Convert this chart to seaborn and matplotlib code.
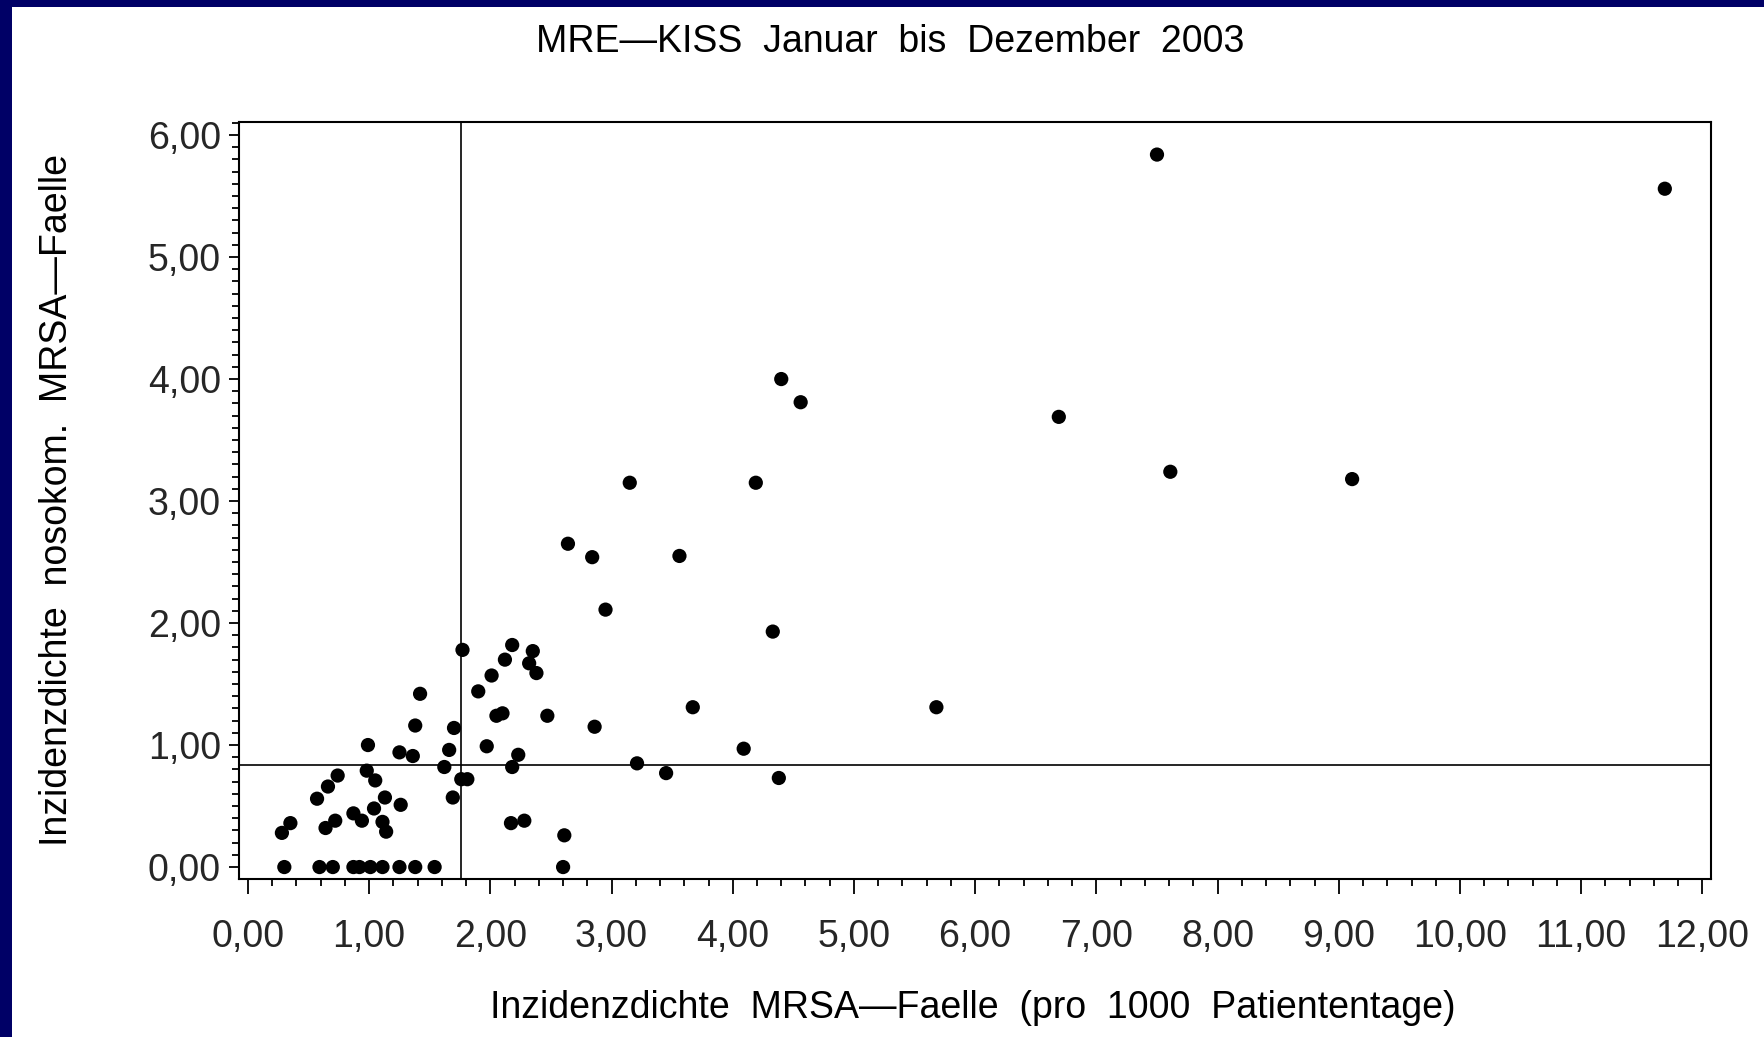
import matplotlib
matplotlib.use("Agg")
import matplotlib.pyplot as plt
from matplotlib.patches import Rectangle
from matplotlib.ticker import MultipleLocator, FuncFormatter
import seaborn as sns
import pandas as pd

# Incidence density of MRSA cases (per 1000 patient days) per ward
mrsa_total = [
    0.30, 0.59, 0.70, 0.87, 0.92, 1.01, 1.11, 1.25, 1.38, 1.54, 2.60,
    0.28, 0.35, 0.57, 0.66, 0.64, 0.72, 0.74, 0.87, 0.94, 0.98,
    0.99, 1.04, 1.05, 1.11, 1.13, 1.14, 1.26, 1.25, 1.36, 1.38,
    1.42, 1.62, 1.66, 1.69, 1.70, 1.76, 1.81, 1.77, 1.90, 1.97,
    2.01, 2.05, 2.10, 2.12, 2.17, 2.18, 2.18, 2.23, 2.28, 2.32,
    2.35, 2.38, 2.47, 2.61, 2.64, 2.84, 2.86, 2.95, 3.15, 3.21,
    3.45, 3.56, 3.67, 4.09, 4.19, 4.33, 4.38, 4.40, 4.56, 5.68,
    6.69, 7.50, 7.61, 9.11, 11.69,
]
# Incidence density of nosocomial MRSA cases
mrsa_nosocomial = [
    0.00, 0.00, 0.00, 0.00, 0.00, 0.00, 0.00, 0.00, 0.00, 0.00, 0.00,
    0.28, 0.36, 0.56, 0.66, 0.32, 0.38, 0.75, 0.44, 0.38, 0.79,
    1.00, 0.48, 0.71, 0.37, 0.57, 0.29, 0.51, 0.94, 0.91, 1.16,
    1.42, 0.82, 0.96, 0.57, 1.14, 0.72, 0.72, 1.78, 1.44, 0.99,
    1.57, 1.24, 1.26, 1.70, 0.36, 0.82, 1.82, 0.92, 0.38, 1.67,
    1.77, 1.59, 1.24, 0.26, 2.65, 2.54, 1.15, 2.11, 3.15, 0.85,
    0.77, 2.55, 1.31, 0.97, 3.15, 1.93, 0.73, 4.00, 3.81, 1.31,
    3.69, 5.84, 3.24, 3.18, 5.56,
]

# Reference lines (overall values)
ref_x = 1.755
ref_y = 0.836

title = "MRE\u2014KISS  Januar  bis  Dezember  2003"
xlabel = "Inzidenzdichte  MRSA\u2014Faelle  (pro  1000  Patiententage)"
ylabel = "Inzidenzdichte  nosokom.  MRSA\u2014Faelle"

df = pd.DataFrame({"x": mrsa_total, "y": mrsa_nosocomial})

sns.set_theme(style="white")
plt.rcParams["font.family"] = ["Liberation Sans", "DejaVu Sans"]

fig = plt.figure(figsize=(17.64, 10.37), dpi=100)
fig.patch.set_facecolor("white")

# Navy frame at the top and left edge
navy = "#000066"
fig.patches.append(Rectangle((0, 1 - 7 / 1037), 1, 7 / 1037, transform=fig.transFigure,
                             facecolor=navy, edgecolor="none", zorder=0))
fig.patches.append(Rectangle((0, 0), 12 / 1764, 1, transform=fig.transFigure,
                             facecolor=navy, edgecolor="none", zorder=0))

ax = fig.add_axes([239 / 1764, 158 / 1037, 1472 / 1764, 757 / 1037])
ax.set_facecolor("white")

sns.scatterplot(data=df, x="x", y="y", ax=ax, color="black", s=105,
                edgecolor="none", linewidth=0, zorder=3)

ax.axvline(ref_x, color="black", lw=1.2, zorder=2)
ax.axhline(ref_y, color="black", lw=1.2, zorder=2)

ax.set_xlim(-0.074, 12.071)
ax.set_ylim(-0.098, 6.107)

ax.xaxis.set_major_locator(MultipleLocator(1.0))
ax.xaxis.set_minor_locator(MultipleLocator(0.2))
ax.yaxis.set_major_locator(MultipleLocator(1.0))
ax.yaxis.set_minor_locator(MultipleLocator(0.1))
fmt = FuncFormatter(lambda v, p: f"{v:.2f}".replace(".", ","))
ax.xaxis.set_major_formatter(fmt)
ax.yaxis.set_major_formatter(fmt)

for s in ax.spines.values():
    s.set_color("black")
    s.set_linewidth(1.5)

ax.tick_params(axis="x", which="major", direction="out", length=11, width=1.3,
               color="black", labelsize=27, pad=18, bottom=True)
ax.tick_params(axis="x", which="minor", direction="out", length=5, width=1.3,
               color="black", bottom=True)
ax.tick_params(axis="y", which="major", direction="out", length=7, width=1.3,
               color="black", labelsize=27, pad=6, left=True)
ax.tick_params(axis="y", which="minor", direction="out", length=5, width=1.3,
               color="black", left=True)

ax.set_xlabel(xlabel, fontsize=27, color="black")
ax.set_ylabel(ylabel, fontsize=27, color="black")
ax.xaxis.label.set_va("center")
ax.yaxis.label.set_va("center")
ax.xaxis.set_label_coords(0.4986, -0.170)
ax.yaxis.set_label_coords(-0.1235, 0.5007)

fig.suptitle(title, x=890 / 1764, y=1 - 42 / 1037, va="center", fontsize=27, color="black")

fig.savefig("out.png", dpi=100, facecolor=fig.get_facecolor())
